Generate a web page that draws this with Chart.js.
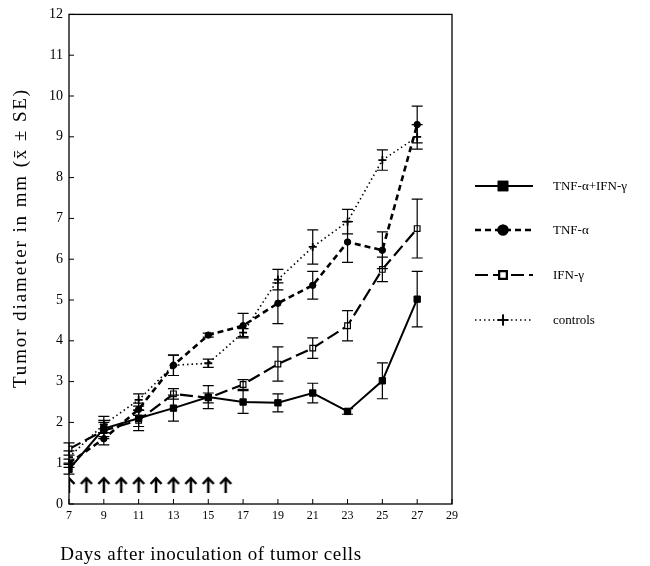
<!DOCTYPE html>
<html><head><meta charset="utf-8">
<script src="https://cdn.jsdelivr.net/npm/chart.js@4/dist/chart.umd.min.js"></script>
<style>html,body{margin:0;padding:0;background:#fff}#wrap{width:650px;height:566px}</style>
</head><body><div id="wrap"><canvas id="c" width="650" height="566"></canvas></div>
<script>
const days = [7, 9, 11, 13, 15, 17, 19, 21, 23, 25, 27];
const combo = [0.85, 1.85, 2.1, 2.35, 2.62, 2.5, 2.48, 2.72, 2.27, 3.02, 5.02];
const comboSE = [0.12, 0.2, 0.2, 0.32, 0.28, 0.28, 0.22, 0.24, 0.07, 0.44, 0.68];
const tnf = [1.0, 1.6, 2.32, 3.4, 4.14, 4.37, 4.92, 5.36, 6.42, 6.22, 9.3];
const tnfSE = [0.1, 0.15, 0.15, 0.25, 0.05, 0.3, 0.5, 0.34, 0.5, 0.45, 0.45];
const ifn = [1.35, 1.8, 2.05, 2.7, 2.6, 2.93, 3.43, 3.82, 4.37, 5.75, 6.75];
const ifnSE = [0.15, 0.2, 0.25, 0.13, 0.12, 0.12, 0.42, 0.25, 0.37, 0.3, 0.72];
const controls = [1.15, 1.95, 2.55, 3.4, 3.45, 4.2, 5.5, 6.3, 6.92, 8.43, 9.0];
const controlsSE = [0.15, 0.2, 0.15, 0.25, 0.1, 0.1, 0.25, 0.42, 0.3, 0.25, 0.3];
const treatmentDays = [7, 8, 9, 10, 11, 12, 13, 14, 15, 16];
const arrowLevel = 0.48;
const xTicks = [7, 9, 11, 13, 15, 17, 19, 21, 23, 25, 27, 29];
const seriesNames = ['TNF-\u03b1+IFN-\u03b3', 'TNF-\u03b1', 'IFN-\u03b3', 'controls'];
const xTitle = 'Days after inoculation of tumor cells';
const yTitle = 'Tumor diameter in mm (x\u0304 \u00b1 SE)';

const SERIF = '"Liberation Serif", "DejaVu Serif", serif';

const arrowImg = document.createElement('canvas');
arrowImg.width = 14; arrowImg.height = 17;
(function(){
  const g = arrowImg.getContext('2d');
  g.strokeStyle = '#000'; g.lineWidth = 2.5; g.lineCap = 'butt';
  g.beginPath(); g.moveTo(7, 2); g.lineTo(7, 17); g.stroke();
  g.beginPath(); g.moveTo(1.5, 8); g.lineTo(7, 2.2); g.lineTo(12.5, 8); g.stroke();
})();

function pts(vals){ return days.map((d,i)=>({x:d, y:vals[i]})); }

const datasets = [
  {label: seriesNames[0], data: pts(combo), se: comboSE, borderColor:'#000', backgroundColor:'#000', borderWidth:2,
   pointStyle:'rect', pointRadius:4.5, pointBackgroundColor:'#000', pointBorderColor:'#000', pointBorderWidth:1},
  {label: seriesNames[1], data: pts(tnf), se: tnfSE, borderColor:'#000', backgroundColor:'#000', borderWidth:2.6, borderDash:[6,4],
   pointStyle:'circle', pointRadius:3.2, pointBackgroundColor:'#000', pointBorderColor:'#000', pointBorderWidth:1},
  {label: seriesNames[2], data: pts(ifn), se: ifnSE, borderColor:'#000', backgroundColor:'#fff', borderWidth:2.2, borderDash:[13,5],
   pointStyle:'rect', pointRadius:4, pointBackgroundColor:'#fff', pointBorderColor:'#000', pointBorderWidth:1.2},
  {label: seriesNames[3], data: pts(controls), se: controlsSE, borderColor:'#000', backgroundColor:'#000', borderWidth:1.6, borderDash:[1.5,3],
   pointStyle:'cross', pointRadius:4, pointBorderColor:'#000', pointBorderWidth:1.8},
  {label:'treatment', data: treatmentDays.map(d=>({x:d,y:arrowLevel})), showLine:false, pointStyle: arrowImg, pointRadius:8}
];

const frameTicks = {
  id:'frameTicks',
  afterDraw(chart){
    const {ctx, chartArea:a, scales:{x,y}} = chart;
    ctx.save();
    ctx.strokeStyle = '#000'; ctx.lineWidth = 1.3;
    ctx.strokeRect(a.left, a.top, a.right-a.left, a.bottom-a.top);
    ctx.lineWidth = 1;
    y.ticks.forEach(t=>{ const py = y.getPixelForValue(t.value); ctx.beginPath(); ctx.moveTo(a.left, py); ctx.lineTo(a.left+5, py); ctx.stroke(); });
    x.ticks.forEach(t=>{ const px = x.getPixelForValue(t.value); ctx.beginPath(); ctx.moveTo(px, a.bottom); ctx.lineTo(px, a.bottom-5); ctx.stroke(); });
    ctx.fillStyle = '#000';
    ctx.textAlign = 'center'; ctx.textBaseline = 'alphabetic';
    ctx.font = '19px ' + SERIF;
    ctx.letterSpacing = '0.6px';
    ctx.fillText(xTitle, 211, 560);
    ctx.save();
    ctx.translate(21, 238); ctx.rotate(-Math.PI/2);
    ctx.font = '19px ' + SERIF;
    ctx.letterSpacing = '1.9px';
    ctx.textBaseline = 'middle';
    ctx.fillText(yTitle, 0, 0);
    ctx.restore();
    ctx.restore();
  }
};

const errorBars = {
  id:'errorBars',
  afterDatasetsDraw(chart){
    const {ctx, scales:{x,y}} = chart;
    ctx.save(); ctx.strokeStyle = '#000'; ctx.lineWidth = 1.2; ctx.setLineDash([]);
    chart.data.datasets.forEach(ds=>{
      if(!ds.se) return;
      ds.data.forEach((p,i)=>{
        const px = x.getPixelForValue(p.x);
        const t = y.getPixelForValue(p.y + ds.se[i]);
        const b = y.getPixelForValue(p.y - ds.se[i]);
        ctx.beginPath();
        ctx.moveTo(px, t); ctx.lineTo(px, b);
        ctx.moveTo(px-5.5, t); ctx.lineTo(px+5.5, t);
        ctx.moveTo(px-5.5, b); ctx.lineTo(px+5.5, b);
        ctx.stroke();
      });
    });
    ctx.restore();
  }
};

const customLegend = {
  id:'customLegend',
  afterDraw(chart){
    const ctx = chart.ctx;
    const rows = [186, 230, 275, 320];
    ctx.save();
    chart.data.datasets.slice(0,4).forEach((ds,i)=>{
      const yy = rows[i];
      ctx.strokeStyle = '#000'; ctx.lineWidth = ds.borderWidth;
      ctx.setLineDash(ds.borderDash || []);
      ctx.beginPath(); ctx.moveTo(475, yy); ctx.lineTo(533, yy); ctx.stroke();
      ctx.setLineDash([]);
      Chart.helpers.drawPoint(ctx, {pointStyle: ds.pointStyle, radius: ds.pointRadius*1.35, borderWidth: ds.pointBorderWidth+0.5, rotation:0}, 503, yy);
      ctx.fillStyle = ds.pointBackgroundColor || '#000';
      ctx.strokeStyle = '#000';
      if (ds.pointStyle !== 'cross') { ctx.fill(); }
      ctx.stroke();
      ctx.fillStyle = '#000';
      ctx.font = '13px ' + SERIF;
      ctx.textBaseline = 'middle'; ctx.textAlign = 'left';
      ctx.fillText(ds.label, 553, yy + 1);
    });
    ctx.restore();
  }
};

new Chart(document.getElementById('c'), {
  type:'scatter',
  data:{datasets},
  options:{
    responsive:false, animation:false, devicePixelRatio:1,
    showLine:true,
    layout:{padding:{top:13, right:198, left:0, bottom:0}},
    plugins:{legend:{display:false}, tooltip:{enabled:false}},
    elements:{line:{tension:0, fill:false}},
    scales:{
      x:{type:'linear', min:7, max:29,
         afterBuildTicks(s){ s.ticks = xTicks.map(v=>({value:v})); },
         afterFit(s){ s.height = 62; },
         grid:{display:false, drawTicks:false}, border:{display:false},
         ticks:{color:'#000', font:{family:SERIF, size:12}, padding:5},
         title:{display:false}},
      y:{type:'linear', min:0, max:12,
         ticks:{stepSize:1, color:'#000', font:{family:SERIF, size:14}, padding:6},
         afterFit(s){ s.width = 69; },
         grid:{display:false, drawTicks:false}, border:{display:false},
         title:{display:false}}
    }
  },
  plugins:[errorBars, frameTicks, customLegend]
});
</script></body></html>
